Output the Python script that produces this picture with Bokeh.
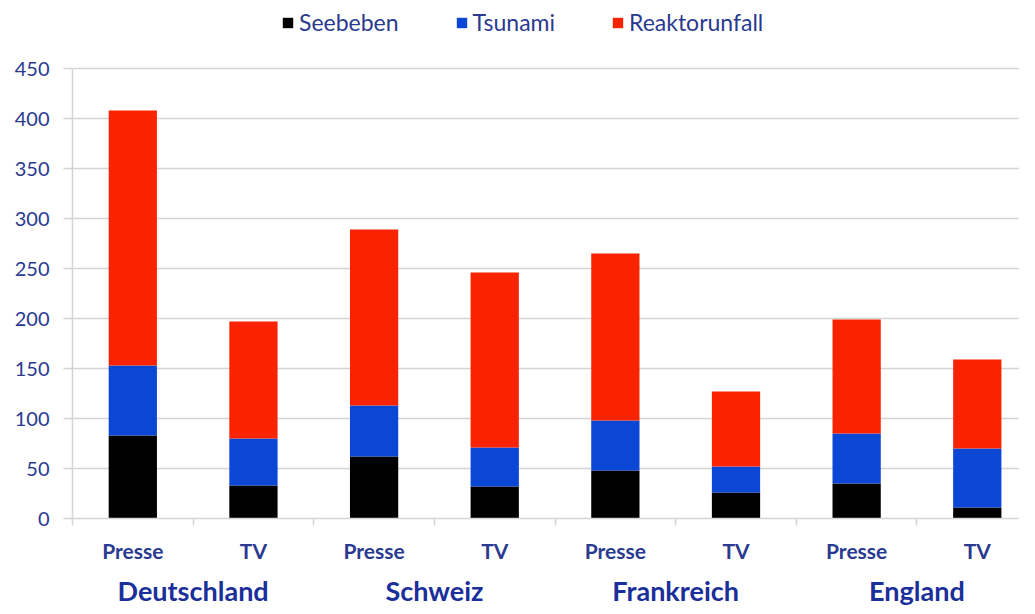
from bokeh.plotting import figure
from bokeh.models import ColumnDataSource, Range1d, FixedTicker, LinearAxis, Legend, LegendItem
from bokeh.embed import file_html
from bokeh.resources import INLINE

countries = ["Deutschland", "Schweiz", "Frankreich", "England"]
media = ["Presse", "TV"]
series = ["Seebeben", "Tsunami", "Reaktorunfall"]
seebeben = [83, 33, 62, 32, 48, 26, 35, 11]
tsunami = [70, 47, 51, 39, 50, 26, 50, 59]
reaktorunfall = [255, 117, 176, 175, 167, 75, 114, 89]
y_ticks = [0, 50, 100, 150, 200, 250, 300, 350, 400, 450]
colors = ["#000000", "#0b46d4", "#fa2300"]

n = len(seebeben)
bar_x = [i + 0.5 for i in range(n)]
boundaries = [float(i) for i in range(n + 1)]
country_x = [len(media) * j + len(media) / 2 for j in range(len(countries))]

source = ColumnDataSource(dict(x=bar_x, Seebeben=seebeben, Tsunami=tsunami, Reaktorunfall=reaktorunfall))

TXT = "#2a3a90"
FONT = "Lato"

# frame extends above the 450 line to host the legend
p = figure(frame_width=947, frame_height=512, output_backend="svg", toolbar_location=None,
           x_range=Range1d(0, 7.85), y_range=Range1d(0, 512),
           min_border_left=72, min_border_right=0, min_border_top=6, min_border_bottom=80)
p.outline_line_color = None
p.xgrid.grid_line_color = None
p.ygrid.grid_line_color = "#d4d4d4"
p.ygrid.grid_line_width = 1.5

renderers = p.vbar_stack(series, x="x", width=0.4, source=source, color=colors, line_color=None)

# y axis
ya = p.yaxis[0]
ya.ticker = FixedTicker(ticks=y_ticks)
ya.bounds = (y_ticks[0], y_ticks[-1])
ya.major_label_text_font = FONT
ya.major_label_text_font_size = "20px"
ya.major_label_text_color = TXT
ya.axis_line_color = "#d4d4d4"
ya.axis_line_width = 1.5
ya.major_tick_line_color = "#d4d4d4"
ya.major_tick_line_width = 1.5
ya.major_tick_out = 9
ya.major_tick_in = 0
ya.minor_tick_line_color = None
ya.major_label_standoff = 14

# x axis: media labels, ticks at boundaries
xa = p.xaxis[0]
xa.ticker = FixedTicker(ticks=bar_x, minor_ticks=boundaries)
xa.major_label_overrides = {x: media[i % len(media)] for i, x in enumerate(bar_x)}
xa.major_label_text_font = FONT
xa.major_label_text_font_style = "bold"
xa.major_label_text_font_size = "21px"
xa.major_label_text_color = TXT
xa.axis_line_color = "#d4d4d4"
xa.axis_line_width = 1.5
xa.major_tick_line_color = None
xa.major_tick_out = 0
xa.major_tick_in = 0
xa.minor_tick_line_color = "#d4d4d4"
xa.minor_tick_line_width = 1.5
xa.minor_tick_out = 7
xa.minor_tick_in = 0
xa.major_label_standoff = 12

# country axis
ca = LinearAxis(ticker=FixedTicker(ticks=country_x, minor_ticks=[]))
ca.major_label_overrides = {x: c for x, c in zip(country_x, countries)}
ca.major_label_text_font = FONT
ca.major_label_text_font_style = "bold"
ca.major_label_text_font_size = "27px"
ca.major_label_text_color = "#1a2f9a"
ca.axis_line_color = None
ca.major_tick_line_color = None
ca.minor_tick_line_color = None
ca.major_label_standoff = 2
p.add_layout(ca, "below")

legend = Legend(items=[LegendItem(label=s, renderers=[r]) for s, r in zip(series, renderers)],
                orientation="horizontal", location=(209, 482))
legend.label_text_font = FONT
legend.label_text_font_size = "23px"
legend.label_text_color = TXT
legend.glyph_width = 13
legend.glyph_height = 13
legend.label_standoff = 5
legend.spacing = 56
legend.border_line_color = None
legend.background_fill_alpha = 0
legend.padding = 0
legend.margin = 0
p.add_layout(legend, "center")

open("out.html", "w").write(file_html(p, INLINE))
